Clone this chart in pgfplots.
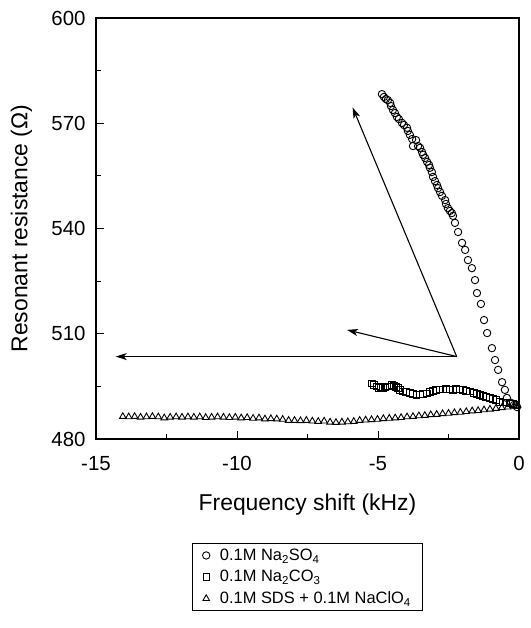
\documentclass[border=0pt]{standalone}
\usepackage{fontspec}
\setmainfont{Liberation Sans}
\usepackage{pgfplots}
\pgfplotsset{compat=1.18}
\usetikzlibrary{arrows.meta}

\begin{document}
\begin{tikzpicture}
\useasboundingbox (-96bp,-189bp) rectangle (435bp,439bp);
\begin{axis}[
  at={(0,0)}, anchor=south west,
  scale only axis,
  width=423bp, height=421bp,
  xmin=-15, xmax=0,
  ymin=480, ymax=600,
  xtick={-15,-10,-5,0},
  ytick={480,510,540,570,600},
  minor x tick num=1,
  minor y tick num=1,
  tick align=inside,
  xtick pos=bottom, ytick pos=left,
  major tick length=8bp,
  minor tick length=5bp,
  axis line style={line width=1.8bp},
  every tick/.style={black, line width=0.8bp},
  /pgf/number format/assume math mode=true,
  ticklabel style={font=\fontsize{20.5}{24}\selectfont},
  yticklabel style={xshift=-7bp},
  xticklabel style={yshift=-14bp},
  xlabel={Frequency shift (kHz)},
  ylabel={Resonant resistance (Ω)},
  label style={font=\fontsize{23}{27}\selectfont},
  xlabel style={at={(axis description cs:0.5,-0.155)}, anchor=center},
  ylabel style={at={(axis description cs:-0.176,0.5)}, anchor=center},
  legend style={
    at={(axis description cs:0.227,-0.247)}, anchor=north west,
    draw=black, line width=1bp,
    font=\fontsize{16.5}{19}\selectfont,
    inner xsep=10bp, inner ysep=3.5bp,
    row sep=4.5bp, column sep=8bp,
  },
  legend cell align=left,
  clip=false,
]

% 0.1M Na2SO4
\addplot[only marks, mark=o, mark size=3.7bp, mark options={line width=0.9bp, fill=white}]
coordinates {
(-4.86,578.3)(-4.79,577.5)(-4.72,576.9)(-4.65,576.6)(-4.57,575.8)
(-4.54,574.9)(-4.47,573.8)(-4.40,572.9)(-4.33,571.8)(-4.26,571.2)
(-4.15,570.1)(-4.08,569.5)(-3.97,568.7)(-3.94,567.8)(-3.87,566.7)
(-3.79,565.5)(-3.76,563.5)(-3.65,565.2)(-3.58,563.5)(-3.51,563.0)
(-3.44,561.8)(-3.40,561.0)(-3.33,560.1)(-3.26,559.0)(-3.19,558.1)
(-3.16,557.3)(-3.09,556.1)(-3.05,554.7)(-2.98,553.5)(-2.91,552.4)
(-2.87,551.5)(-2.80,550.4)(-2.73,549.3)(-2.62,548.1)(-2.59,547.0)
(-2.52,545.8)(-2.45,545.0)(-2.38,544.4)(-2.34,543.6)(-2.27,541.6)
(-2.16,539.0)(-2.02,535.9)(-1.91,533.9)(-1.81,531.0)(-1.67,528.7)
(-1.56,525.3)(-1.49,521.6)(-1.35,518.5)(-1.24,513.9)(-1.13,510.2)
(-0.96,505.9)(-0.85,502.5)(-0.74,499.7)(-0.60,496.2)(-0.50,494.0)
(-0.43,491.7)(-0.28,490.3)(-0.18,489.7)(-0.07,489.1)
};
\addlegendentry{0.1M Na\textsubscript{2}SO\textsubscript{4}}

% 0.1M Na2CO3
\addplot[only marks, mark=square, mark size=3.2bp, mark options={line width=0.9bp, fill=white}]
coordinates {
(-5.22,495.9)(-5.14,495.4)(-5.05,494.9)(-4.96,494.5)(-4.89,494.8)
(-4.82,494.5)(-4.75,494.7)(-4.68,495.0)(-4.57,494.9)(-4.50,495.4)
(-4.43,495.1)(-4.36,494.8)(-4.29,494.5)(-4.22,494.0)(-4.11,493.5)
(-4.01,493.4)(-3.87,493.1)(-3.76,492.8)(-3.63,492.5)(-3.51,492.7)
(-3.40,492.8)(-3.27,493.0)(-3.16,493.4)(-3.05,493.7)(-2.94,494.0)
(-2.80,494.2)(-2.70,494.1)(-2.59,494.3)(-2.45,494.2)(-2.34,494.0)
(-2.23,494.3)(-2.09,494.2)(-1.99,494.0)(-1.88,493.7)(-1.74,493.5)
(-1.60,493.1)(-1.49,492.8)(-1.38,492.5)(-1.28,492.3)(-1.17,492.0)
(-1.03,491.7)(-0.92,491.4)(-0.82,491.1)(-0.67,490.6)(-0.57,490.5)
(-0.46,490.4)(-0.32,490.2)(-0.21,490.0)(-0.08,489.7)
};
\addlegendentry{0.1M Na\textsubscript{2}CO\textsubscript{3}}

% 0.1M SDS + 0.1M NaClO4
\addplot[only marks, mark=triangle, mark size=3.8bp, mark options={line width=0.9bp, fill=white}]
coordinates {
(-14.05,486.4)(-13.84,486.3)(-13.63,486.4)(-13.42,486.2)(-13.21,486.3)
(-13.00,486.4)(-12.79,486.3)(-12.58,486.0)(-12.37,486.2)(-12.16,486.3)
(-11.95,486.2)(-11.74,486.3)(-11.53,486.2)(-11.32,486.3)(-11.11,486.1)
(-10.90,486.2)(-10.69,486.3)(-10.48,486.2)(-10.27,486.1)(-10.06,486.2)
(-9.85,486.0)(-9.64,486.1)(-9.43,485.9)(-9.22,486.0)(-9.01,485.7)
(-8.80,485.8)(-8.59,485.7)(-8.38,485.6)(-8.17,485.3)(-7.96,485.3)
(-7.75,485.2)(-7.54,485.3)(-7.33,485.1)(-7.12,485.0)(-6.91,485.1)
(-6.70,484.8)(-6.49,484.7)(-6.28,484.8)(-6.07,484.9)(-5.86,485.0)
(-5.65,485.3)(-5.44,485.4)(-5.23,485.5)(-5.02,485.6)(-4.81,485.8)
(-4.60,485.9)(-4.39,486.0)(-4.18,486.1)(-3.97,486.3)(-3.76,486.4)
(-3.55,486.6)(-3.34,486.7)(-3.13,486.9)(-2.92,487.0)(-2.71,487.2)
(-2.50,487.3)(-2.29,487.5)(-2.08,487.6)(-1.87,487.8)(-1.66,488.0)
(-1.45,488.1)(-1.24,488.3)(-1.03,488.5)(-0.82,488.7)(-0.61,488.9)
(-0.40,489.1)(-0.19,489.4)(-0.05,489.6)
};
\addlegendentry{0.1M SDS + 0.1M NaClO\textsubscript{4}}

% annotation arrows
\draw[line width=1.1bp, -{Stealth[length=11bp,width=7bp,inset=3bp]}]
  (axis cs:-2.21,503.5) -- (axis cs:-5.90,574.5);
\draw[line width=1.1bp, -{Stealth[length=11bp,width=7bp,inset=3bp]}]
  (axis cs:-2.21,503.5) -- (axis cs:-6.1,511.1);
\draw[line width=1.1bp, -{Stealth[length=11bp,width=7bp,inset=3bp]}]
  (axis cs:-2.21,503.5) -- (axis cs:-14.3,503.5);
\end{axis}
\end{tikzpicture}
\end{document}
